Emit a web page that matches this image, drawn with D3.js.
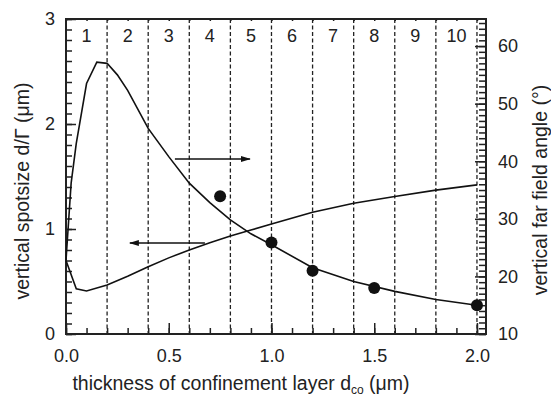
<!DOCTYPE html>
<html>
<head>
<meta charset="utf-8">
<script src="https://cdn.jsdelivr.net/npm/d3@7"></script>
<style>
  body { margin: 0; background: #fff; }
  text { font-family: "Liberation Sans", Arial, Helvetica, sans-serif; fill: #222; }
</style>
</head>
<body>
<svg id="chart" width="551" height="396"></svg>
<script>
// far field angle curve (right axis, degrees)
const angleX = [0, 0.025, 0.05, 0.1, 0.15, 0.2, 0.25, 0.3, 0.4, 0.5, 0.6, 0.7, 0.8, 0.9, 1.0, 1.2, 1.4, 1.6, 1.8, 2.0];
const angleY = [22.8, 36.2, 43.1, 53.5, 57.2, 57.0, 55.0, 52.3, 45.7, 40.8, 36.2, 32.8, 29.8, 27.4, 25.5, 21.5, 19.1, 17.4, 16.0, 15.0];
// vertical spot size curve (left axis, um)
const spotX = [0, 0.05, 0.1, 0.2, 0.3, 0.4, 0.5, 0.6, 0.7, 0.8, 0.9, 1.0, 1.2, 1.4, 1.6, 1.8, 2.0];
const spotY = [0.70, 0.43, 0.41, 0.467, 0.55, 0.64, 0.725, 0.80, 0.87, 0.933, 0.99, 1.048, 1.16, 1.245, 1.31, 1.37, 1.42];
// measured far field angles (dots)
const measX = [0.75, 1.0, 1.2, 1.5, 2.0];
const measY = [33.9, 25.9, 21.0, 18.0, 15.0];
// region boundaries and labels
const bounds = [0.2, 0.4, 0.6, 0.8, 1.0, 1.2, 1.4, 1.6, 1.8, 2.0];
const regions = ["1", "2", "3", "4", "5", "6", "7", "8", "9", "10"];
// arrows: [xFrom, xTo, y on left axis]
const arrowRight = [0.53, 0.895, 1.667];
const arrowLeft = [0.676, 0.311, 0.867];

const svg = d3.select('#chart');
const m = {l:66, t:19, r:65, b:62};
const W = 551, H = 396;
const x = d3.scaleLinear().domain([0, 2.044]).range([m.l, W - m.r]);
const yL = d3.scaleLinear().domain([0, 3]).range([H - m.b, m.t]);
const yR = d3.scaleLinear().domain([10, 64.7]).range([H - m.b, m.t]);

// dashed region lines
svg.append('g').selectAll('line').data(bounds).enter().append('line')
  .attr('x1', d => x(d)).attr('x2', d => x(d))
  .attr('y1', m.t).attr('y2', H - m.b)
  .attr('stroke', '#222').attr('stroke-width', 1.3)
  .attr('stroke-dasharray', '4,2.5');

// region numbers
svg.append('g').selectAll('text').data(regions).enter().append('text')
  .attr('x', (d, i) => x(i * 0.2 + 0.1))
  .attr('y', 42)
  .attr('text-anchor', 'middle')
  .style('font-size', '18px')
  .text(d => d);

// axes, ticks inward
function styleAxis(g) {
  g.select('.domain').remove();
  g.selectAll('line').attr('stroke', '#222').attr('stroke-width', 1.5);
  g.selectAll('text').style('font-size', '18px').attr('fill', '#222');
}
const minorX = d3.range(0, 2.01, 0.1);
svg.append('g').attr('transform', `translate(0,${H - m.b})`)
  .call(d3.axisBottom(x).tickValues(minorX).tickSize(-6).tickFormat(''))
  .call(styleAxis);
svg.append('g').attr('transform', `translate(0,${H - m.b})`)
  .call(d3.axisBottom(x).tickValues([0, 0.5, 1, 1.5, 2]).tickSize(-11).tickPadding(15).tickFormat(d3.format('.1f')))
  .call(styleAxis);
svg.append('g').attr('transform', `translate(0,${m.t})`)
  .call(d3.axisTop(x).tickValues(minorX).tickSize(-2).tickFormat(''))
  .call(styleAxis);

svg.append('g').attr('transform', `translate(${m.l},0)`)
  .call(d3.axisLeft(yL).tickValues(d3.range(0, 3.01, 0.1)).tickSize(-6).tickFormat(''))
  .call(styleAxis);
svg.append('g').attr('transform', `translate(${m.l},0)`)
  .call(d3.axisLeft(yL).tickValues([0, 1, 2, 3]).tickSize(-10).tickPadding(11).tickFormat(d3.format('d')))
  .call(styleAxis);

svg.append('g').attr('transform', `translate(${W - m.r},0)`)
  .call(d3.axisRight(yR).tickValues(d3.range(10, 64.5, 1)).tickSize(-7).tickFormat(''))
  .call(styleAxis);
svg.append('g').attr('transform', `translate(${W - m.r},0)`)
  .call(d3.axisRight(yR).tickValues([10, 20, 30, 40, 50, 60]).tickSize(-11).tickPadding(12).tickFormat(d3.format('d')))
  .call(styleAxis);

// frame
svg.append('rect')
  .attr('x', m.l).attr('y', m.t)
  .attr('width', W - m.r - m.l).attr('height', H - m.b - m.t)
  .attr('fill', 'none').attr('stroke', '#222').attr('stroke-width', 2);

// curves
const angleLine = d3.line().x(d => x(d[0])).y(d => yR(d[1]));
svg.append('path').datum(d3.zip(angleX, angleY))
  .attr('d', angleLine)
  .attr('fill', 'none').attr('stroke', '#111').attr('stroke-width', 1.6);
const spotLine = d3.line().x(d => x(d[0])).y(d => yL(d[1]));
svg.append('path').datum(d3.zip(spotX, spotY))
  .attr('d', spotLine)
  .attr('fill', 'none').attr('stroke', '#111').attr('stroke-width', 1.6);

// measured points
svg.append('g').selectAll('circle').data(d3.zip(measX, measY)).enter().append('circle')
  .attr('cx', d => x(d[0])).attr('cy', d => yR(d[1]))
  .attr('r', 6).attr('fill', '#111');

// arrows
svg.append('defs').append('marker')
  .attr('id', 'head').attr('markerUnits', 'userSpaceOnUse')
  .attr('viewBox', '0 -4 10 8').attr('refX', 9).attr('refY', 0)
  .attr('markerWidth', 10).attr('markerHeight', 8).attr('orient', 'auto')
  .append('path').attr('d', 'M0,-3L10,0L0,3Z').attr('fill', '#111');
svg.append('g').selectAll('line').data([arrowRight, arrowLeft]).enter().append('line')
  .attr('x1', d => x(d[0])).attr('x2', d => x(d[1]))
  .attr('y1', d => yL(d[2])).attr('y2', d => yL(d[2]))
  .attr('stroke', '#111').attr('stroke-width', 1.5)
  .attr('marker-end', 'url(#head)');

// axis titles
const xt = svg.append('text')
  .attr('x', 241).attr('y', 390)
  .attr('text-anchor', 'middle')
  .style('font-size', '19.5px');
xt.append('tspan').text('thickness of confinement layer d');
xt.append('tspan').attr('dy', 3.5).style('font-size', '12px').text('co');
xt.append('tspan').attr('dy', -3.5).text(' (\u03bcm)');

svg.append('text')
  .attr('transform', 'translate(29,191) rotate(-90)')
  .attr('text-anchor', 'middle')
  .style('font-size', '19.5px')
  .text('vertical spotsize d/\u0393 (\u03bcm)');

svg.append('text')
  .attr('transform', 'translate(547,190) rotate(-90)')
  .attr('text-anchor', 'middle')
  .style('font-size', '19.5px')
  .text('vertical far field angle (\u00b0)');
</script>
</body>
</html>
